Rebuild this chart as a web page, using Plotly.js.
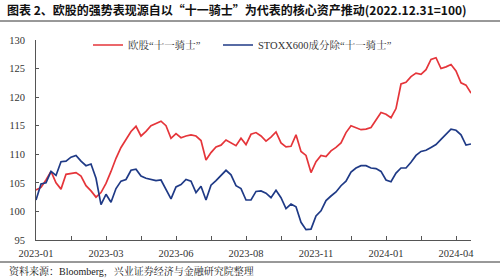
<!DOCTYPE html>
<html><head><meta charset="utf-8">
<script src="https://cdn.plot.ly/plotly-3.0.1.min.js"></script>
<style>html,body{margin:0;padding:0;background:#fff}#chart{width:500px;height:279px}</style>
</head><body><div id="chart"></div>
<script>
const seriesNames = ["欧股“十一骑士”", "STOXX600成分除“十一骑士”"];
const knights = [103.75,104.2,105.5,107.0,105.0,103.9,106.5,106.6,106.8,106.2,
 104.5,103.6,102.5,103.3,104.9,107.0,109.3,111.2,112.5,114.0,
 114.9,113.2,114.0,115.0,115.4,115.8,115.0,112.8,113.6,112.9,
 113.2,113.4,113.2,112.4,109.0,110.3,111.3,111.6,112.5,112.0,
 111.5,112.8,111.7,113.5,113.8,113.2,112.3,113.0,113.9,112.0,
 111.3,111.4,113.4,110.5,109.8,106.8,108.7,109.8,109.6,110.6,
 111.2,112.0,113.8,115.0,114.7,114.3,114.4,114.7,116.0,117.3,
 117.0,116.4,118.0,122.3,122.6,123.6,124.2,124.0,124.8,126.6,
 126.9,125.0,125.3,125.7,124.6,122.5,122.1,120.7];
const others = [102.0,104.8,105.0,107.0,106.3,108.7,108.8,109.5,109.8,108.8,
 108.0,108.3,105.8,101.2,103.0,101.6,104.0,105.3,105.6,107.2,
 107.4,106.2,105.8,105.6,105.4,105.5,103.8,102.2,104.3,104.7,
 105.6,105.3,103.3,104.4,102.0,104.6,105.4,106.3,107.2,106.4,
 104.5,104.0,102.0,102.0,103.5,103.6,103.2,102.4,103.7,102.4,
 100.5,101.3,100.8,98.1,96.8,96.9,99.2,100.1,101.9,102.7,
 103.4,104.5,105.3,106.9,107.6,108.0,108.0,107.6,107.5,107.0,
 105.5,105.2,106.7,107.6,107.6,108.6,109.8,110.5,110.7,111.2,
 111.7,112.6,113.5,114.4,114.2,113.4,111.6,111.8];
const tickLabels = ["2023-01","2023-03","2023-06","2023-08","2023-11","2024-01","2024-04"];
const pointsPerTick = 7;
const yTicks = [95,100,105,110,115,120,125,130];

const idx = knights.map((_, i) => i);
const tickvals = [], ticktext = [];
for (let k = 0; k < tickLabels.length * 2 - 1; k++) {
  tickvals.push(k * pointsPerTick);
  ticktext.push(k % 2 === 0 ? tickLabels[k / 2] : "");
}
const serif = "Liberation Serif, Noto Serif CJK SC, Noto Sans CJK SC, serif";

const data = [
  {x: idx, y: knights, name: seriesNames[0], type: "scatter", mode: "lines", legend: "legend",
   line: {color: "#E5353A", width: 1.7}},
  {x: idx, y: others, name: seriesNames[1], type: "scatter", mode: "lines", legend: "legend2",
   line: {color: "#1F3A86", width: 1.7}}
];
const W = 435, H = 200;
const legendBase = {orientation: "h", y: (240-45)/H, xanchor: "left", yanchor: "middle",
  font: {family: serif, size: 10.5, color: "#333"}, itemwidth: 30, bgcolor: "rgba(0,0,0,0)"};
const layout = {
  width: 500, height: 279,
  margin: {l: 36, r: 29, t: 40, b: 39, pad: 0},
  paper_bgcolor: "#fff", plot_bgcolor: "#fff",
  font: {family: serif, size: 10.5, color: "#222"},
  title: {text: "<b>图表 2、欧股的强势表现源自以“十一骑士”为代表的核心资产推动(2022.12.31=100)</b>",
    font: {family: "Noto Sans CJK SC, Liberation Serif, serif", size: 12, color: "#111"},
    x: 7/500, xanchor: "left", xref: "container", y: 1 - 11/279, yanchor: "middle", yref: "container"},
  showlegend: true,
  legend: Object.assign({}, legendBase, {x: (88-36)/W}),
  legend2: Object.assign({}, legendBase, {x: (218-36)/W}),
  xaxis: {range: [0, knights.length - 1], tickvals: tickvals, ticktext: ticktext,
    ticks: "inside", ticklen: 4, tickcolor: "#555", showgrid: false, zeroline: false,
    showline: true, linecolor: "#555", linewidth: 1, tickfont: {family: serif, size: 10.5, color: "#333"},
    ticklabelstandoff: 3, fixedrange: true},
  yaxis: {range: [95, 130], tickvals: yTicks, ticks: "inside", ticklen: 3, tickcolor: "#555",
    showgrid: false, zeroline: false, showline: true, linecolor: "#555", linewidth: 1,
    tickfont: {family: serif, size: 10.5, color: "#333"}, ticklabelstandoff: 8},
  shapes: [
    {type: "line", xref: "paper", yref: "paper", x0: -36/W, x1: (500-36)/W, y0: (240-21)/H, y1: (240-21)/H,
     line: {color: "#333", width: 1}},
    {type: "line", xref: "paper", yref: "paper", x0: -36/W, x1: (500-36)/W, y0: (240-262)/H, y1: (240-262)/H,
     line: {color: "#333", width: 1}}
  ],
  annotations: [
    {text: "资料来源：Bloomberg，兴业证券经济与金融研究院整理", xref: "paper", yref: "paper",
     x: (7-36)/W, y: (240-271)/H, xanchor: "left", yanchor: "middle", showarrow: false,
     font: {family: serif, size: 10, color: "#222"}}
  ]
};
Plotly.newPlot("chart", data, layout, {displayModeBar: false, staticPlot: true});
</script></body></html>
